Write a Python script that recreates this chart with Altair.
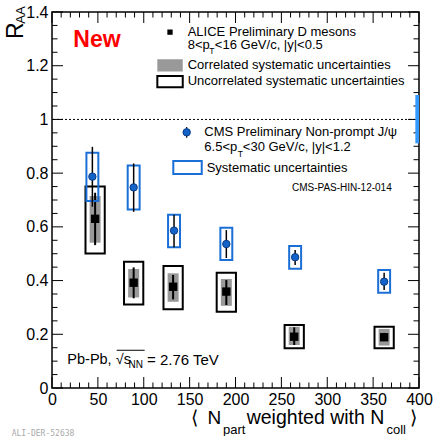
import altair as alt
import pandas as pd

# ---------------- data ----------------
alice_x = [47, 89, 132, 190, 264, 362]
alice_y = [0.630, 0.392, 0.377, 0.359, 0.191, 0.189]
alice_stat_lo = [0.532, 0.334, 0.330, 0.309, 0.160, 0.175]
alice_stat_hi = [0.727, 0.449, 0.421, 0.402, 0.226, 0.205]
alice_corr_lo = [0.541, 0.337, 0.321, 0.306, 0.160, 0.158]
alice_corr_hi = [0.715, 0.443, 0.427, 0.406, 0.228, 0.220]
alice_unc_lo = [0.501, 0.311, 0.293, 0.284, 0.148, 0.148]
alice_unc_hi = [0.750, 0.470, 0.454, 0.429, 0.235, 0.228]

cms_x = [44, 89, 133, 190, 265, 362]
cms_y = [0.787, 0.747, 0.586, 0.536, 0.487, 0.396]
cms_err_lo = [0.675, 0.656, 0.524, 0.484, 0.458, 0.365]
cms_err_hi = [0.898, 0.836, 0.645, 0.588, 0.514, 0.429]
cms_sys_lo = [0.696, 0.665, 0.524, 0.477, 0.444, 0.355]
cms_sys_hi = [0.876, 0.828, 0.645, 0.597, 0.529, 0.439]

cms_global_lo = [0.911]
cms_global_hi = [1.091]

x_major = [0, 50, 100, 150, 200, 250, 300, 350, 400]
x_minor = [v for v in range(0, 401, 10) if v % 50 != 0]
y_major = [0, 0.2, 0.4, 0.6, 0.8, 1, 1.2, 1.4]
y_minor = [round(0.05 * i, 2) for i in range(0, 29) if i % 4 != 0]

# ---------------- layout / style ----------------
W, H = 367, 376
FONT = "Liberation Sans"
UNC_HW = 10.5   # half widths of boxes in x units
CORR_HW = 6.0
CMS_HW = 6.5
BLUE = "#1a6fd6"
MAJ, MIN = 11, 5.5

xs = alt.Scale(domain=[0, 400], nice=False, zero=False)
ys = alt.Scale(domain=[0, 1.4], nice=False, zero=False)
x_axis = alt.Axis(values=x_major, title=None, ticks=False, domain=False, grid=False,
                  labelFont=FONT, labelFontSize=16, labelColor="black", labelPadding=3,
                  labelFlush=False, labelOverlap=False, format="d")
y_axis = alt.Axis(values=y_major, title=None, ticks=False, domain=False, grid=False,
                  labelFont=FONT, labelFontSize=16, labelColor="black", labelPadding=4,
                  labelFlush=False, labelOverlap=False, format="~g")

alice = pd.DataFrame({
    "x": alice_x, "y": alice_y,
    "slo": alice_stat_lo, "shi": alice_stat_hi,
    "clo": alice_corr_lo, "chi": alice_corr_hi,
    "ulo": alice_unc_lo, "uhi": alice_unc_hi,
})
alice["cx1"] = alice["x"] - CORR_HW
alice["cx2"] = alice["x"] + CORR_HW
alice["ux1"] = alice["x"] - UNC_HW
alice["ux2"] = alice["x"] + UNC_HW

cms = pd.DataFrame({
    "x": cms_x, "y": cms_y,
    "elo": cms_err_lo, "ehi": cms_err_hi,
    "slo": cms_sys_lo, "shi": cms_sys_hi,
})
cms["sx1"] = cms["x"] - CMS_HW
cms["sx2"] = cms["x"] + CMS_HW


def X(f):
    return alt.X(f, type="quantitative", scale=xs, axis=x_axis)


def Y(f):
    return alt.Y(f, type="quantitative", scale=ys, axis=y_axis)


# dotted line at 1
one_df = pd.DataFrame({"y": [1.0]})
one_line = alt.Chart(one_df).mark_rule(color="black", strokeWidth=1, strokeDash=[2, 2]).encode(
    y=Y("y"))

# inward ticks
ymaj_df = pd.DataFrame({"v": y_major})
ymin_df = pd.DataFrame({"v": y_minor})
xmaj_df = pd.DataFrame({"v": x_major})
xmin_df = pd.DataFrame({"v": x_minor})
tick_layers = []
for df, L in [(ymaj_df, MAJ), (ymin_df, MIN)]:
    tick_layers.append(alt.Chart(df).mark_rule(color="black", strokeWidth=1).encode(
        y=Y("v"), x=alt.value(0), x2=alt.value(L)))
    tick_layers.append(alt.Chart(df).mark_rule(color="black", strokeWidth=1).encode(
        y=Y("v"), x=alt.value(W - L), x2=alt.value(W)))
for df, L in [(xmaj_df, MAJ), (xmin_df, MIN)]:
    tick_layers.append(alt.Chart(df).mark_rule(color="black", strokeWidth=1).encode(
        x=X("v"), y=alt.value(H - L), y2=alt.value(H)))
    tick_layers.append(alt.Chart(df).mark_rule(color="black", strokeWidth=1).encode(
        x=X("v"), y=alt.value(0), y2=alt.value(L)))

# ALICE
a = alt.Chart(alice)
alice_corr = a.mark_rect(color="#999999").encode(x=X("cx1"), x2="cx2", y=Y("clo"), y2="chi")
alice_unc = a.mark_rect(fill=None, stroke="black", strokeWidth=2).encode(
    x=X("ux1"), x2="ux2", y=Y("ulo"), y2="uhi")
alice_err = a.mark_rule(color="black", strokeWidth=2).encode(x=X("x"), y=Y("slo"), y2="shi")
alice_pts = a.mark_point(shape="square", filled=True, color="black", size=70, opacity=1).encode(
    x=X("x"), y=Y("y"))

# CMS
c = alt.Chart(cms)
cms_sys = c.mark_rect(fill=None, stroke=BLUE, strokeWidth=2).encode(
    x=X("sx1"), x2="sx2", y=Y("slo"), y2="shi")
cms_err = c.mark_rule(color="black", strokeWidth=1.5).encode(x=X("x"), y=Y("elo"), y2="ehi")
cms_pts = c.mark_point(shape="circle", filled=True, fill="#1463c8", stroke="#0a3a85",
                       strokeWidth=1, size=55, opacity=1).encode(x=X("x"), y=Y("y"))

glob_df = pd.DataFrame({"x1": [396.0], "x2": [400.0], "lo": cms_global_lo, "hi": cms_global_hi})
cms_glob = alt.Chart(glob_df).mark_rect(color="#3399ff").encode(
    x=X("x1"), x2="x2", y=Y("lo"), y2="hi")

# legend samples (data units)
leg_sq = alt.Chart(pd.DataFrame({"x": [128.6], "y": [1.325]})).mark_point(
    shape="square", filled=True, color="black", size=28, opacity=1).encode(x=X("x"), y=Y("y"))
leg_gray = alt.Chart(pd.DataFrame({"x1": [114.8], "x2": [142.5], "y1": [1.178], "y2": [1.224]})).mark_rect(
    color="#999999").encode(x=X("x1"), x2="x2", y=Y("y1"), y2="y2")
leg_open = alt.Chart(pd.DataFrame({"x1": [114.8], "x2": [142.5], "y1": [1.1195], "y2": [1.1616]})).mark_rect(
    fill=None, stroke="black", strokeWidth=2).encode(x=X("x1"), x2="x2", y=Y("y1"), y2="y2")
leg_cms_err = alt.Chart(pd.DataFrame({"x": [146.8], "lo": [0.932], "hi": [0.972]})).mark_rule(
    color="black", strokeWidth=1.2).encode(x=X("x"), y=Y("lo"), y2="hi")
leg_cms_pt = alt.Chart(pd.DataFrame({"x": [146.8], "y": [0.952]})).mark_point(
    shape="circle", filled=True, fill="#1463c8", stroke="#0a3a85", strokeWidth=1, size=55,
    opacity=1).encode(x=X("x"), y=Y("y"))
leg_blue = alt.Chart(pd.DataFrame({"x1": [132.2], "x2": [163.2], "y1": [0.797], "y2": [0.845]})).mark_rect(
    fill=None, stroke=BLUE, strokeWidth=2).encode(x=X("x1"), x2="x2", y=Y("y1"), y2="y2")

# texts (data units)
texts = [
    ("ALICE Preliminary D mesons", 147.9, 1.324, 13, "normal", "black", "left"),
    ("8<p", 147.9, 1.277, 13, "normal", "black", "left"),
    ("T", 171.5, 1.254, 8.5, "normal", "black", "left"),
    ("<16 GeV/c, |y|<0.5", 177.5, 1.277, 13, "normal", "black", "left"),
    ("Correlated systematic uncertainties", 147.9, 1.2026, 13, "normal", "black", "left"),
    ("Uncorrelated systematic uncertainties", 147.9, 1.144, 13, "normal", "black", "left"),
    ("CMS Preliminary Non-prompt J/\u03c8", 166.0, 0.952, 13, "normal", "black", "left"),
    ("6.5<p", 166.0, 0.896, 13, "normal", "black", "left"),
    ("T", 202.5, 0.873, 8.5, "normal", "black", "left"),
    ("<30 GeV/c, |y|<1.2", 208.0, 0.896, 13, "normal", "black", "left"),
    ("Systematic uncertainties", 168.6, 0.821, 13, "normal", "black", "left"),
    ("New", 23.2, 1.296, 23, "bold", "#ff0000", "left"),
    ("Pb-Pb, \u221as", 16.7, 0.1042, 14.5, "normal", "black", "left"),
    ("NN", 83.4, 0.0838, 10, "normal", "black", "left"),
    ("= 2.76 TeV", 103.5, 0.1042, 15, "normal", "black", "left"),
    ("\u27e8", 152.0, -0.1117, 19, "normal", "black", "left"),
    ("N", 169.5, -0.1117, 19, "normal", "black", "left"),
    ("part", 186.4, -0.1564, 13, "normal", "black", "left"),
    ("weighted with N", 212.2, -0.1117, 19.5, "normal", "black", "left"),
    ("coll", 364.5, -0.1564, 13, "normal", "black", "left"),
    ("\u27e9", 390.2, -0.1117, 19, "normal", "black", "left"),
]
text_layers = []
for t, x, y, s, w, col, al in texts:
    df = pd.DataFrame({"x": [x], "y": [y], "t": [t]})
    text_layers.append(alt.Chart(df).mark_text(
        font=FONT, fontSize=s, fontWeight=w, color=col, align=al, baseline="middle").encode(
        x=X("x"), y=Y("y"), text="t:N"))

cms_pas = alt.Chart(pd.DataFrame({"x": [370.3], "y": [0.746], "t": ["CMS-PAS-HIN-12-014"]})).mark_text(
    font=FONT, fontSize=10, color="black", align="right", baseline="middle").encode(
    x=X("x"), y=Y("y"), text="t:N")

ali = alt.Chart(pd.DataFrame({"x": [-43.9], "y": [-0.171], "t": ["ALI-DER-52638"]})).mark_text(
    font="DejaVu Sans Mono", fontSize=8, color="#aaaaaa", align="left", baseline="middle").encode(
    x=X("x"), y=Y("y"), text="t:N")

sqrt_bar = alt.Chart(pd.DataFrame({"x1": [70.5], "x2": [101.0], "y": [0.1405]})).mark_rule(
    color="black", strokeWidth=1).encode(x=X("x1"), x2="x2", y=Y("y"))

# y title (rotated)
ytitle_R = alt.Chart(pd.DataFrame({"x": [-39.5], "y": [1.330], "t": ["R"]})).mark_text(
    font=FONT, fontSize=23, color="black", angle=270, align="center", baseline="middle").encode(
    x=X("x"), y=Y("y"), text="t:N")
ytitle_AA = alt.Chart(pd.DataFrame({"x": [-33.5], "y": [1.389], "t": ["AA"]})).mark_text(
    font=FONT, fontSize=13, color="black", angle=270, align="center", baseline="middle").encode(
    x=X("x"), y=Y("y"), text="t:N")

chart = alt.layer(
    one_line, *tick_layers,
    alice_corr, alice_unc, alice_err, alice_pts,
    cms_sys, cms_err, cms_pts, cms_glob,
    leg_sq, leg_gray, leg_open, leg_cms_err, leg_cms_pt, leg_blue,
    *text_layers, cms_pas, ali, sqrt_bar, ytitle_R, ytitle_AA,
).properties(
    width=W, height=H,
    autosize=alt.AutoSizeParams(type="none"),
    padding={"left": 52, "top": 12, "right": 15, "bottom": 48},
    background="white",
).configure_view(stroke="black", strokeWidth=1.5)

chart.save("out.html", embed_options={"renderer": "svg", "actions": False})
